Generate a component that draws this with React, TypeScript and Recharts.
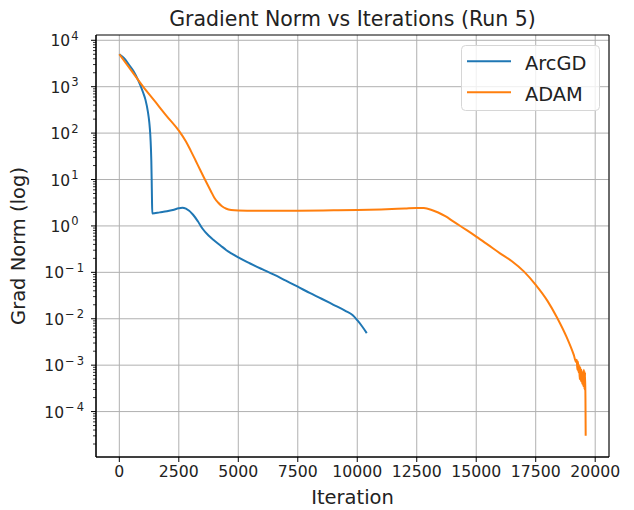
import React from 'react';
import { LineChart, Line, XAxis, YAxis, CartesianGrid, Legend, ReferenceArea } from 'recharts';

const FONT = '"DejaVu Sans", sans-serif';

const SERIES = ['ArcGD', 'ADAM'];

// ArcGD run (iteration, gradient norm)
const ARC_ITER = [
  0, 200, 400, 600, 800, 1000, 1100, 1200, 1260, 1300, 1330, 1345, 1360, 1372, 1385,
  1700, 2000, 2250, 2500, 2650, 2800, 3100, 3300, 3500, 3750, 4000, 4250, 4500, 4750,
  5000, 5500, 6000, 6500, 7000, 7500, 8000, 8500, 9000, 9500, 9800, 10000, 10200, 10400,
];
const ARC_NORM = [
  5000, 4100, 3000, 2150, 1350, 750, 520, 290, 170, 95, 45, 25, 10, 4, 1.85,
  1.96, 2.07, 2.2, 2.4, 2.46, 2.35, 1.74, 1.26, 0.87, 0.62, 0.48, 0.38, 0.3, 0.25,
  0.209, 0.155, 0.117, 0.089, 0.066, 0.049, 0.036, 0.027, 0.02, 0.0148, 0.012, 0.0093, 0.0069, 0.0049,
];

// ADAM run
const ADAM_ITER = [
  0, 500, 1000, 1500, 2000, 2500, 2800, 3000, 3200, 3400, 3550, 3700, 3850, 4000,
  4150, 4300, 4500, 4700, 5000, 6000, 7500, 9000, 10000, 11000, 12000, 12500, 12800,
  13100, 13400, 13700, 14000, 14300, 14600, 15000, 15500, 16000, 16500, 17000, 17500,
  18000, 18400, 18800, 19100, 19200, 19225, 19250, 19275, 19300, 19325, 19350, 19375,
  19400, 19425, 19450, 19475, 19500, 19525, 19550, 19575, 19590, 19600,
];
const ADAM_NORM = [
  5000, 2240, 1000, 480, 230, 113, 66, 42, 26, 16, 11.2, 7.9, 5.6, 4.0,
  3.2, 2.7, 2.35, 2.21, 2.15, 2.12, 2.13, 2.17, 2.2, 2.27, 2.38, 2.44, 2.42,
  2.24, 1.95, 1.62, 1.29, 1.02, 0.81, 0.59, 0.39, 0.257, 0.174, 0.105, 0.0537,
  0.024, 0.0105, 0.004, 0.00166, 0.00117, 0.0013, 0.0008, 0.0012, 0.0007, 0.001, 0.0005, 0.0009,
  0.00045, 0.0008, 0.0004, 0.0007, 0.00035, 0.0008, 0.0003, 0.0007, 0.0002, 0.00003,
];

const X_TICKS = [0, 2500, 5000, 7500, 10000, 12500, 15000, 17500, 20000];
const X_DOMAIN = [-980, 20580];
const Y_MAJOR = [1e-4, 1e-3, 1e-2, 1e-1, 1, 1e1, 1e2, 1e3, 1e4];
const Y_DOMAIN = [1.05e-5, 1.3e4];

// minor log ticks 2..9 x 10^k inside the visible range
const Y_MINOR: number[] = [];
for (let k = -5; k < 4; k++) {
  for (let m = 2; m < 10; m++) {
    const v = m * Math.pow(10, k);
    if (v > Y_DOMAIN[0] && v < Y_DOMAIN[1]) Y_MINOR.push(v);
  }
}

const arcData = ARC_ITER.map((it, i) => ({ it, norm: ARC_NORM[i] }));
const adamData = ADAM_ITER.map((it, i) => ({ it, norm: ADAM_NORM[i] }));

function LogTick(props: any) {
  const { x, y, payload } = props;
  const v = payload.value;
  const exp = Math.round(Math.log10(v));
  const isMajor = Math.abs(v / Math.pow(10, exp) - 1) < 1e-6;
  if (!isMajor) {
    return <line x1={x - 3} x2={x} y1={y} y2={y} stroke="#000" strokeWidth={0.8} />;
  }
  const neg = exp < 0;
  return (
    <g>
      <line x1={x - 5} x2={x} y1={y} y2={y} stroke="#000" strokeWidth={1} />
      <text
        x={neg ? x - 12 : x - 17.5}
        y={y + 6}
        textAnchor="end"
        fontSize={15.5}
        fontFamily={FONT}
        fill="#222"
      >
        <tspan>10</tspan>
        {neg ? (
          <>
            <tspan dx={1} dy={-6.6} fontSize={11.5}>−</tspan>
            <tspan dx={2} fontSize={11.5}>{Math.abs(exp)}</tspan>
          </>
        ) : (
          <tspan dx={1} dy={-6.6} fontSize={11.5}>{exp}</tspan>
        )}
      </text>
    </g>
  );
}

function LegendBox(props: any) {
  const payload = [...(props.payload || [])].sort(
    (a: any, b: any) => SERIES.indexOf(a.value) - SERIES.indexOf(b.value)
  );
  return (
    <svg width={139} height={66} style={{ display: 'block' }}>
      <rect x={0.5} y={0.5} width={138} height={65} rx={4} fill="#fff" fillOpacity={0.8} stroke="#d6d6d6" />
      {payload.map((p: any, i: number) => (
        <g key={p.value}>
          <line x1={6} x2={50} y1={16.3 + i * 31} y2={16.3 + i * 31} stroke={p.color} strokeWidth={2} />
          <text x={64} y={24.7 + i * 31} fontSize={19.4} fontFamily={FONT} fill="#222">
            {p.value}
          </text>
        </g>
      ))}
    </svg>
  );
}

export default function App() {
  return (
    <div style={{ position: 'absolute', left: 0, top: 0, width: 634, height: 510, background: '#fff' }}>
      <svg width={634} height={34} style={{ position: 'absolute', left: 0, top: 0 }}>
        <text x={352.5} y={26} textAnchor="middle" fontSize={20.5} fontFamily={FONT} fill="#222">
          Gradient Norm vs Iterations (Run 5)
        </text>
      </svg>
      <LineChart width={634} height={510} margin={{ top: 35, right: 25, bottom: 0, left: 0 }}>
        <CartesianGrid stroke="#b0b0b0" strokeWidth={1} horizontalValues={Y_MAJOR} />
        <XAxis
          dataKey="it"
          type="number"
          domain={X_DOMAIN}
          ticks={X_TICKS}
          interval={0}
          allowDataOverflow
          height={53}
          tickSize={5}
          tickMargin={4}
          axisLine={{ stroke: '#000' }}
          tickLine={{ stroke: '#000' }}
          tick={{ fontSize: 15.7, fill: '#222', fontFamily: FONT }}
          label={{ value: 'Iteration', position: 'insideBottom', offset: 6, fontSize: 19.5, fill: '#222', fontFamily: FONT }}
        />
        <YAxis
          scale="log"
          type="number"
          domain={Y_DOMAIN}
          allowDataOverflow
          ticks={[...Y_MAJOR, ...Y_MINOR]}
          interval={0}
          width={96}
          tickSize={0}
          tickMargin={0}
          tickLine={false}
          tick={<LogTick />}
          axisLine={{ stroke: '#000' }}
          label={{
            value: 'Grad Norm (log)',
            angle: -90,
            position: 'insideLeft',
            offset: 18,
            fontSize: 19.5,
            fill: '#222',
            fontFamily: FONT,
            style: { textAnchor: 'middle' },
          }}
        />
        <ReferenceArea
          x1={X_DOMAIN[0]}
          x2={X_DOMAIN[1]}
          y1={Y_DOMAIN[0]}
          y2={Y_DOMAIN[1]}
          fill="none"
          fillOpacity={0}
          stroke="#000"
          strokeWidth={1}
          ifOverflow="visible"
        />
        <Legend
          layout="vertical"
          align="center"
          verticalAlign="middle"
          wrapperStyle={{ left: 461, top: 45, width: 139, height: 66 }}
          content={<LegendBox />}
        />
        <Line
          data={arcData}
          dataKey="norm"
          name="ArcGD"
          type="monotone"
          stroke="#1f77b4"
          strokeWidth={2}
          dot={false}
          isAnimationActive={false}
        />
        <Line
          data={adamData}
          dataKey="norm"
          name="ADAM"
          type="monotone"
          stroke="#ff7f0e"
          strokeWidth={2}
          dot={false}
          isAnimationActive={false}
        />
      </LineChart>
    </div>
  );
}
